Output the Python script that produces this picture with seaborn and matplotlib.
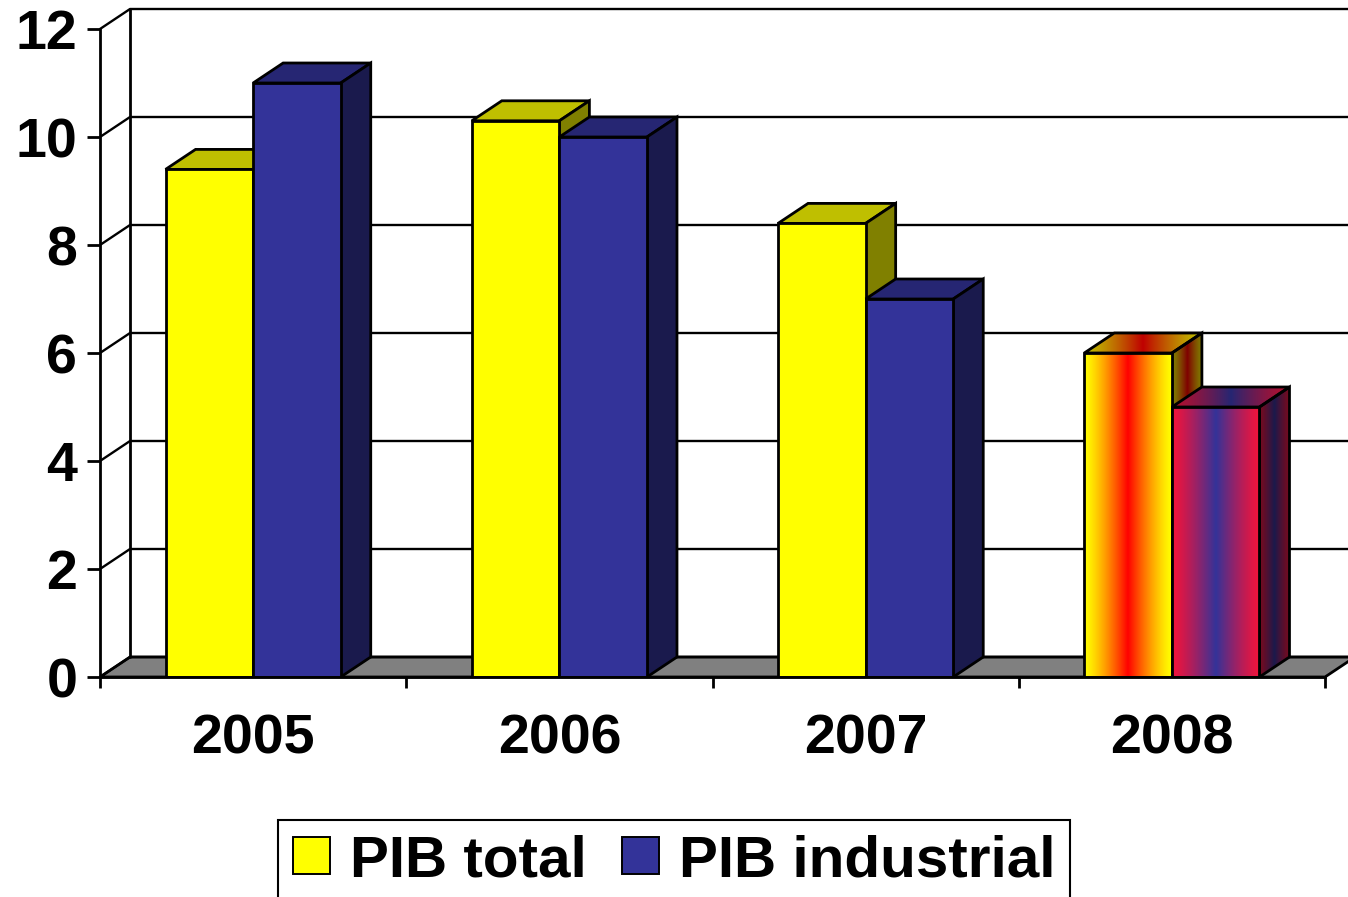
import numpy as np
import pandas as pd
import matplotlib
matplotlib.use("Agg")
import matplotlib.pyplot as plt
from matplotlib.patches import Polygon, Patch
import matplotlib.colors as mcolors
import seaborn as sns

# data
years = ["2005", "2006", "2007", "2008"]
pib_total = [9.4, 10.3, 8.4, 6.0]
pib_industrial = [11.0, 10.0, 7.0, 5.0]
series_names = ["PIB total", "PIB industrial"]

YELLOW = "#FFFF00"
BLUE = "#333399"
GRAD_EDGE = {"PIB total": "#FFFF00", "PIB industrial": "#F0143C"}
GRAD_MID = {"PIB total": "#FF0000", "PIB industrial": "#333399"}

sns.set_style("white")
plt.rcParams["font.family"] = ["Liberation Sans", "DejaVu Sans"]
plt.rcParams["font.weight"] = "bold"
for k in ["text.color", "axes.labelcolor", "xtick.color", "ytick.color"]:
    plt.rcParams[k] = "black"

df = pd.DataFrame({
    "year": years * 2,
    "value": pib_total + pib_industrial,
    "series": [series_names[0]] * 4 + [series_names[1]] * 4,
})

fig = plt.figure(figsize=(13.48, 8.97), dpi=100)
ax = fig.add_axes([100 / 1348, (897 - 677) / 897, 1225 / 1348, 648 / 897])

lw = 2.0
sns.barplot(data=df, x="year", y="value", hue="series", order=years,
            hue_order=series_names, palette=[YELLOW, BLUE], width=0.572,
            gap=0, errorbar=None, edgecolor="black", linewidth=lw,
            saturation=1, legend=False, ax=ax)

# depth of the fake 3D view (in data units)
dx = 30 / 306
dy = 20 / 54


def shade(c, f):
    r, g, b = mcolors.to_rgb(c)
    return (r * f, g * f, b * f)


def grad_image(poly, edge, mid, extent, z):
    t = np.linspace(0, 1, 256)
    prof = (1 - np.abs(2 * t - 1)) ** 1.3
    e = np.array(edge)
    m = np.array(mid)
    arr = e[None, :] + (m - e)[None, :] * prof[:, None]
    im = ax.imshow(arr[None, :, :], extent=extent, aspect="auto", origin="lower",
                   interpolation="bilinear", zorder=z)
    im.set_clip_path(poly)


bars = sorted([p for p in ax.patches], key=lambda p: p.get_x())
for i, p in enumerate(bars):
    name = series_names[i % 2]
    year = years[i // 2]
    x0, w, h = p.get_x(), p.get_width(), p.get_height()
    base = 3 + 0.2 * (i % 2)
    top = [(x0, h), (x0 + w, h), (x0 + w + dx, h + dy), (x0 + dx, h + dy)]
    side = [(x0 + w, 0), (x0 + w + dx, dy), (x0 + w + dx, h + dy), (x0 + w, h)]
    fc = p.get_facecolor()
    p.set_zorder(base + 0.1)
    p.set_joinstyle("miter")
    if year == "2008":
        e, m = mcolors.to_rgb(GRAD_EDGE[name]), mcolors.to_rgb(GRAD_MID[name])
        ptop = Polygon(top, closed=True, facecolor="none", edgecolor="black", lw=lw, zorder=base + 0.05)
        pside = Polygon(side, closed=True, facecolor="none", edgecolor="black", lw=lw, zorder=base + 0.05)
        ax.add_patch(ptop)
        ax.add_patch(pside)
        grad_image(ptop, shade(e, 0.75), shade(m, 0.75), [x0, x0 + w + dx, h, h + dy], base + 0.01)
        grad_image(pside, shade(e, 0.5), shade(m, 0.5), [x0 + w, x0 + w + dx, 0, h + dy], base + 0.01)
        grad_image(p, e, m, [x0, x0 + w, 0, h], base + 0.08)
        p.set_facecolor("none")
    else:
        ax.add_patch(Polygon(top, closed=True, facecolor=shade(fc[:3], 0.75),
                             edgecolor="black", lw=lw, zorder=base))
        ax.add_patch(Polygon(side, closed=True, facecolor=shade(fc[:3], 0.5),
                             edgecolor="black", lw=lw, zorder=base))

# floor, walls and gridlines
x_left, x_right = -0.5, len(years) - 0.5
ax.add_patch(Polygon([(x_left, 0), (x_right, 0), (x_right + dx, dy), (x_left + dx, dy)],
                     closed=True, facecolor="#808080", edgecolor="black", lw=lw,
                     zorder=1, clip_on=False))
for v in range(0, 13, 2):
    ax.plot([x_left, x_left + dx, x_right + dx], [v, v + dy, v + dy], color="black",
            lw=1.7, zorder=1.5, clip_on=False, solid_capstyle="butt")
ax.plot([x_left + dx, x_left + dx], [dy, 12 + dy], color="black", lw=lw, zorder=1.5, clip_on=False)

ax.set_xlim(x_left, x_right)
ax.set_ylim(0, 12)

ax.set_yticks(range(0, 13, 2))
ax.set_xticks(range(len(years)), labels=years)
ax.set_xticks([x_left + k for k in range(len(years) + 1)], minor=True)
ax.tick_params(axis="y", length=9.4, width=lw, pad=7, labelsize=40, left=True)
ax.tick_params(axis="x", which="major", length=0, pad=26, labelsize=40)
ax.tick_params(axis="x", which="minor", length=8, width=lw, bottom=True, direction="out")
for lab in ax.get_xticklabels() + ax.get_yticklabels():
    lab.set_fontweight("bold")
ax.set_xlabel("")
ax.set_ylabel("")

for s in ["top", "right"]:
    ax.spines[s].set_visible(False)
for s in ["left", "bottom"]:
    ax.spines[s].set_color("black")
    ax.spines[s].set_linewidth(lw)
    ax.spines[s].set_zorder(5)

handles = [Patch(facecolor=YELLOW, edgecolor="black", lw=1.4),
           Patch(facecolor=BLUE, edgecolor="black", lw=1.4)]
leg = fig.legend(handles, series_names, loc="center", bbox_to_anchor=(0.5, 0.04),
                 ncol=2, prop={"weight": "bold", "size": 42},
                 frameon=True, fancybox=False, edgecolor="black", framealpha=1,
                 handlelength=0.64, handleheight=0.62, handletextpad=0.34,
                 columnspacing=0.6, borderpad=0.25, borderaxespad=0)
leg.get_frame().set_linewidth(1.5)

fig.savefig("out.png", dpi=100)
